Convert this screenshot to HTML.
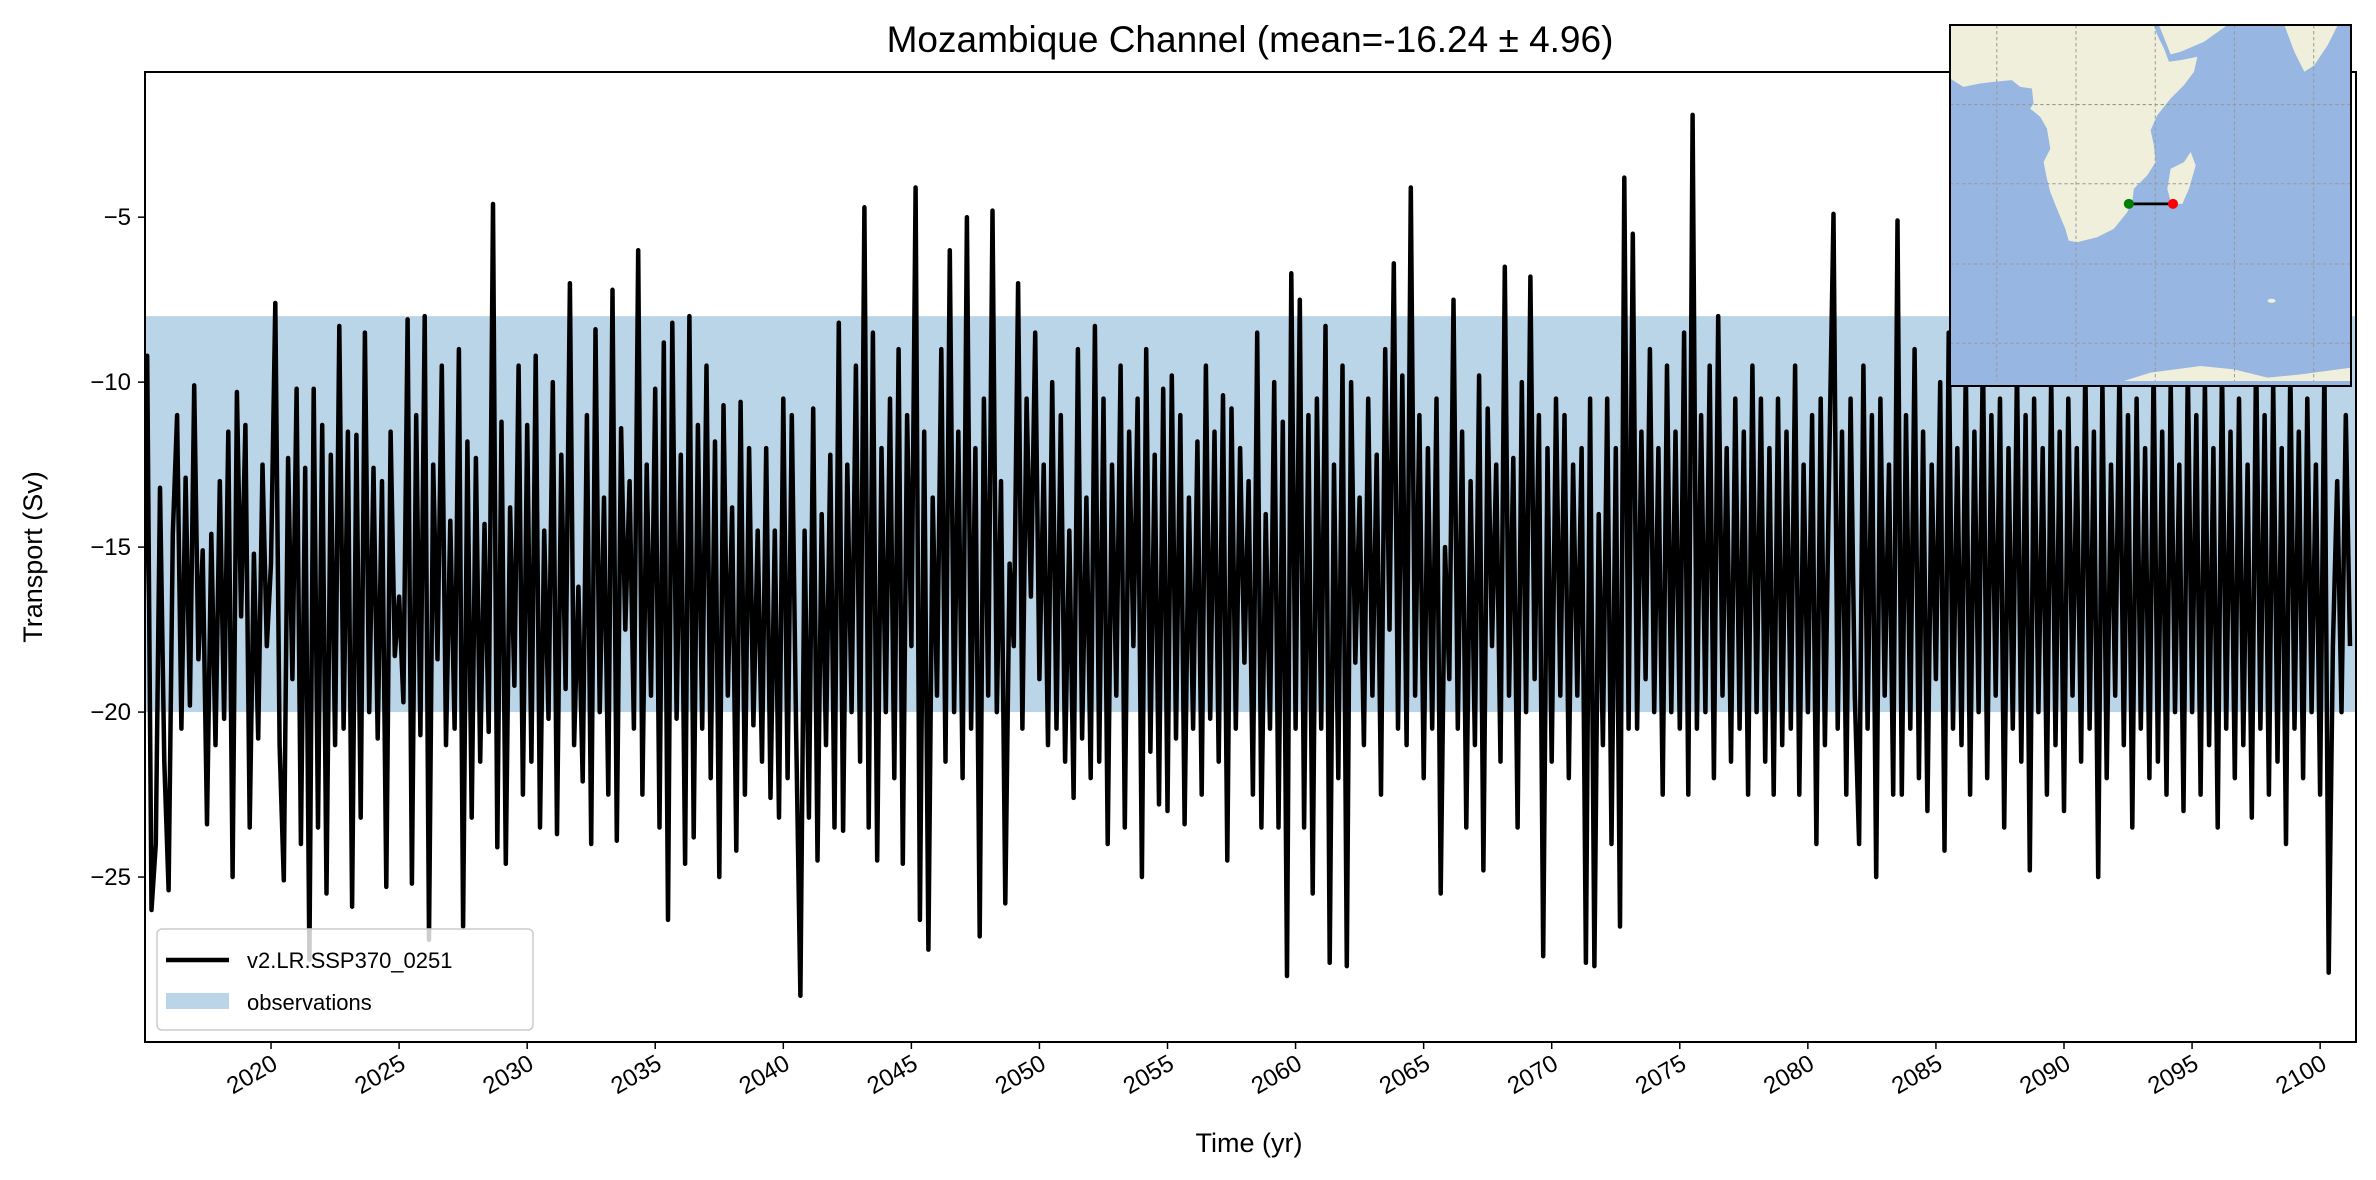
<!DOCTYPE html>
<html><head><meta charset="utf-8">
<style>
html,body{margin:0;padding:0;background:#fff;}
svg{display:block;font-family:"Liberation Sans","DejaVu Sans",sans-serif;}
</style></head>
<body>
<svg id="chart" width="2376" height="1180" viewBox="0 0 2376 1180" xmlns="http://www.w3.org/2000/svg">
<rect x="0" y="0" width="2376" height="1180" fill="#fff"/>
<text x="1250" y="52" font-size="37" text-anchor="middle" fill="#000">Mozambique Channel (mean=-16.24 ± 4.96)</text>
<g id="plot"></g>
<text x="1249" y="1152" font-size="27" text-anchor="middle">Time (yr)</text>
<text transform="translate(42,557) rotate(-90)" font-size="27" text-anchor="middle">Transport (Sv)</text>
<g>
  <rect x="157" y="929" width="376" height="101" rx="5" fill="#fff" fill-opacity="0.8" stroke="#ccc" stroke-width="1.5"/>
  <line x1="166" y1="960" x2="229" y2="960" stroke="#000" stroke-width="4.5"/>
  <text x="247" y="968" font-size="22">v2.LR.SSP370_0251</text>
  <rect x="166" y="993" width="63" height="16" fill="#bad5e8"/>
  <text x="247" y="1010" font-size="22">observations</text>
</g>
<g transform="translate(1950,25)">
  <rect x="0" y="0" width="401" height="361" fill="#97b6e1"/>
  <g transform="scale(0.3343,0.3343) translate(0,-30)">
    <polygon fill="#efefdb" points="0,190 40,215 90,205 130,200 185,195 210,215 245,220 250,265 240,280 270,305 290,340 300,400 280,440 290,490 300,530 320,580 345,640 355,675 380,680 440,665 490,640 530,590 545,560 550,520 590,480 615,440 610,390 600,345 620,300 660,250 700,210 730,170 740,125 690,135 655,140 640,100 620,60 610,30 0,30"/>
    <polygon fill="#efefdb" points="625,30 645,80 660,118 690,110 760,80 830,30"/>
    <polygon fill="#efefdb" points="1000,30 1030,110 1060,170 1090,150 1130,90 1160,30"/>
    <polygon fill="#efefdb" points="660,460 700,440 720,410 735,450 715,520 695,565 662,565 650,520"/>
    <polygon fill="#efefdb" points="520,1095 600,1070 750,1050 850,1060 950,1085 1050,1075 1200,1055 1200,1095"/>
    <ellipse fill="#efefdb" cx="962" cy="855" rx="12" ry="6"/>
    <g stroke="#999" stroke-width="3" stroke-dasharray="10,8" fill="none">
      <line x1="140" y1="30" x2="140" y2="1095"/><line x1="377" y1="30" x2="377" y2="1095"/>
      <line x1="614" y1="30" x2="614" y2="1095"/><line x1="851" y1="30" x2="851" y2="1095"/>
      <line x1="1088" y1="30" x2="1088" y2="1095"/>
      <line x1="0" y1="268" x2="1200" y2="268"/><line x1="0" y1="505" x2="1200" y2="505"/>
      <line x1="0" y1="745" x2="1200" y2="745"/><line x1="0" y1="982" x2="1200" y2="982"/>
    </g>
    <line x1="535" y1="565" x2="667" y2="565" stroke="#000" stroke-width="8"/>
    <circle cx="535" cy="565" r="15" fill="#008000"/>
    <circle cx="667" cy="565" r="15" fill="#ff0000"/>
  </g>
  <rect x="0" y="0" width="401" height="361" fill="none" stroke="#000" stroke-width="2"/>
</g>
</svg>
<script>
const startYear = 2015;
const stepsPerYear = 6;
const transport = [
-18.3,-9.2,-26.0,-24.0,-13.2,-21.5,
-25.4,-14.6,-11.0,-20.5,-12.9,-19.8,
-10.1,-18.4,-15.1,-23.4,-14.6,-21.0,
-13.0,-20.2,-11.5,-25.0,-10.3,-17.1,
-11.3,-23.5,-15.2,-20.8,-12.5,-18.0,
-15.5,-7.6,-21.0,-25.1,-12.3,-19.0,
-10.2,-24.0,-12.6,-27.5,-10.2,-23.5,
-11.3,-25.5,-12.2,-21.0,-8.3,-20.5,
-11.5,-25.9,-11.6,-23.2,-8.5,-20.0,
-12.6,-20.8,-13.0,-25.3,-11.5,-18.3,
-16.5,-19.7,-8.1,-25.2,-11.0,-20.7,
-8.0,-26.9,-12.5,-18.4,-9.5,-21.0,
-14.2,-20.5,-9.0,-26.5,-11.8,-23.2,
-12.3,-21.5,-14.3,-20.6,-4.6,-24.1,
-11.2,-24.6,-13.8,-19.2,-9.5,-22.5,
-11.3,-21.5,-9.2,-23.5,-14.5,-20.2,
-10.0,-23.7,-12.2,-19.3,-7.0,-21.0,
-16.2,-22.1,-11.0,-24.0,-8.4,-20.0,
-13.5,-22.5,-7.2,-23.9,-11.4,-17.5,
-13.0,-20.5,-6.0,-22.5,-12.5,-19.5,
-10.2,-23.5,-8.8,-26.3,-8.2,-20.2,
-12.2,-24.6,-8.0,-23.8,-11.3,-20.5,
-9.5,-22.0,-11.8,-25.0,-10.7,-19.5,
-13.8,-24.2,-10.6,-22.5,-12.0,-20.4,
-14.5,-21.5,-12.0,-22.6,-14.5,-23.2,
-10.5,-22.0,-11.0,-20.5,-28.6,-14.5,
-23.2,-10.8,-24.5,-14.0,-21.0,-12.2,
-23.5,-8.2,-23.6,-12.5,-20.0,-9.5,
-21.5,-4.7,-23.5,-8.5,-24.5,-12.0,
-20.0,-10.5,-22.0,-9.0,-24.6,-11.0,
-18.0,-4.1,-26.3,-11.5,-27.2,-13.5,
-19.5,-9.0,-21.5,-6.0,-20.0,-11.5,
-22.0,-5.0,-20.5,-12.0,-26.8,-10.5,
-19.5,-4.8,-20.0,-13.0,-25.8,-15.5,
-18.0,-7.0,-20.5,-10.5,-16.5,-8.5,
-19.0,-12.5,-21.0,-10.0,-20.5,-11.0,
-21.5,-14.5,-22.6,-9.0,-20.8,-13.5,
-22.0,-8.3,-21.5,-10.5,-24.0,-12.5,
-19.5,-9.5,-23.5,-11.5,-18.0,-10.5,
-25.0,-9.0,-21.2,-12.2,-22.8,-10.2,
-23.0,-9.8,-20.8,-11.0,-23.4,-13.5,
-20.5,-11.8,-22.5,-9.5,-20.2,-11.5,
-21.5,-10.4,-24.5,-10.8,-20.5,-12.0,
-18.5,-13.0,-22.5,-8.5,-23.5,-14.0,
-20.5,-10.0,-23.5,-11.2,-28.0,-6.7,
-20.5,-7.5,-23.5,-11.0,-25.5,-10.5,
-20.5,-8.3,-27.6,-12.5,-22.0,-9.5,
-27.7,-10.0,-18.5,-13.5,-21.0,-10.5,
-19.5,-12.2,-22.5,-9.0,-17.5,-6.4,
-20.5,-9.8,-21.0,-4.1,-19.5,-11.0,
-22.0,-12.0,-20.5,-10.5,-25.5,-15.0,
-19.0,-7.5,-20.5,-11.5,-23.5,-13.0,
-21.0,-9.8,-24.8,-10.8,-18.0,-12.5,
-21.5,-6.5,-19.5,-12.3,-23.5,-10.0,
-20.0,-6.8,-19.0,-11.0,-27.4,-12.0,
-21.5,-10.5,-19.5,-11.0,-22.0,-12.5,
-19.5,-12.0,-27.6,-10.5,-27.7,-14.0,
-21.0,-10.5,-24.0,-12.0,-26.5,-3.8,
-20.5,-5.5,-20.5,-11.5,-19.0,-9.0,
-20.0,-12.0,-22.5,-9.5,-20.0,-11.5,
-20.5,-8.5,-22.5,-1.9,-20.5,-11.0,
-20.0,-9.5,-22.0,-8.0,-19.5,-12.0,
-21.5,-10.5,-20.5,-11.5,-22.5,-9.5,
-20.0,-10.5,-21.5,-12.0,-22.5,-10.5,
-21.0,-11.5,-20.5,-9.5,-22.5,-12.5,
-20.0,-11.0,-24.0,-10.5,-21.0,-12.5,
-4.9,-20.5,-11.5,-22.5,-10.5,-19.5,
-24.0,-9.5,-20.5,-11.0,-25.0,-10.5,
-19.5,-12.5,-22.5,-5.1,-22.5,-11.0,
-20.5,-9.0,-22.0,-11.5,-23.0,-12.5,
-19.0,-10.0,-24.2,-8.5,-20.5,-12.0,
-21.0,-9.5,-22.5,-11.5,-20.0,-9.0,
-22.0,-11.0,-19.5,-10.5,-23.5,-12.0,
-20.5,-9.5,-21.5,-11.0,-24.8,-10.5,
-20.0,-12.0,-22.5,-9.8,-21.0,-11.5,
-23.0,-10.5,-19.5,-12.0,-21.5,-9.5,
-20.5,-11.5,-25.0,-10.0,-22.0,-12.5,
-19.5,-9.5,-21.0,-11.0,-23.5,-10.5,
-20.5,-12.0,-22.0,-9.5,-21.5,-11.5,
-22.5,-10.0,-20.0,-12.5,-23.0,-9.5,
-20.0,-11.0,-22.5,-10.0,-21.0,-12.0,
-23.5,-9.5,-20.5,-11.5,-22.0,-10.5,
-21.0,-12.5,-23.2,-9.0,-20.5,-11.0,
-22.5,-10.0,-21.5,-12.0,-24.0,-9.5,
-20.5,-11.5,-22.0,-10.5,-20.0,-12.5,
-22.5,-9.5,-27.9,-18.0,-13.0,-20.0,
-11.0,-18.0
];
const obsRange = [-20, -8];
const yTicks = [-5, -10, -15, -20, -25];
const xTicks = [2020,2025,2030,2035,2040,2045,2050,2055,2060,2065,2070,2075,2080,2085,2090,2095,2100];

const L = 145, R = 2356, T = 72, B = 1042;
const xMin = 2015.08, xMax = 2101.4, yMin = -30.0, yMax = -0.6;
function xs(v){ return L + (v - xMin) / (xMax - xMin) * (R - L); }
function ys(v){ return T + (yMax - v) / (yMax - yMin) * (B - T); }

const NS = "http://www.w3.org/2000/svg";
const plot = document.getElementById('plot');
function mk(tag, attrs){ const e = document.createElementNS(NS, tag); for (const k in attrs) e.setAttribute(k, attrs[k]); return e; }

const cp = mk('clipPath', {id:'clip'});
cp.appendChild(mk('rect', {x:L, y:T, width:R-L, height:B-T}));
plot.appendChild(cp);

const band = mk('rect', {x:L, y:ys(obsRange[1]), width:R-L, height:ys(obsRange[0])-ys(obsRange[1]), fill:'#bad5e8'});


plot.appendChild(band);

let d = '';
transport.forEach((v, i) => {
  const t = startYear + i / stepsPerYear;
  d += (i ? 'L' : 'M') + xs(t).toFixed(1) + ',' + ys(v).toFixed(1);
});
const line = mk('path', {d:d, fill:'none', stroke:'#000', 'stroke-width':4.5, 'stroke-linejoin':'round', 'clip-path':'url(#clip)'});


plot.appendChild(line);

const frame = mk('rect', {x:L, y:T, width:R-L, height:B-T, fill:'none', stroke:'#000', 'stroke-width':2});


plot.appendChild(frame);

yTicks.forEach(v => {
  const y = ys(v);
  plot.appendChild(mk('line', {x1:L-7, y1:y, x2:L, y2:y, stroke:'#000', 'stroke-width':1.5}));
  const t = mk('text', {x:L-14, y:y+8, 'font-size':24, 'text-anchor':'end'});
  
  
  t.textContent = '\u2212' + Math.abs(v);
  plot.appendChild(t);
});
xTicks.forEach(v => {
  const x = xs(v);
  plot.appendChild(mk('line', {x1:x, y1:B, x2:x, y2:B+7, stroke:'#000', 'stroke-width':1.5}));
  const t = mk('text', {x:0, y:0, 'font-size':24, 'text-anchor':'end', transform:'translate(' + (x+8) + ',' + (B+26) + ') rotate(-30)'});
  
  
  t.textContent = v;
  plot.appendChild(t);
});
</script>
</body></html>
